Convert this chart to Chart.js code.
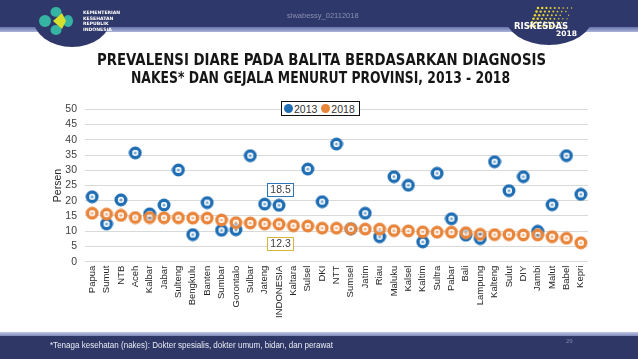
<!DOCTYPE html>
<html><head><meta charset="utf-8">
<script src="https://cdn.jsdelivr.net/npm/chart.js@4"></script>
<style>
html,body{margin:0;padding:0;background:#fff;}
#wrap{position:relative;width:638px;height:359px;overflow:hidden;}
#deco{position:absolute;left:0;top:0;}
#chartBox{position:absolute;left:0;top:95px;width:638px;height:240px;}
.t{position:absolute;white-space:nowrap;transform-origin:left top;line-height:1;}
.ttl{font-family:"DejaVu Sans Condensed","DejaVu Sans",sans-serif;font-weight:bold;font-size:16px;color:#161616;}
#legend{position:absolute;left:281px;top:101px;width:79px;height:15px;border:1px solid #111;background:#fff;box-sizing:border-box;font-family:"Liberation Sans",Arial,sans-serif;font-size:10.5px;color:#333;display:flex;align-items:center;padding-left:2px;}
#legend .dot{display:inline-block;width:9px;height:9px;border-radius:50%;margin-right:1px;}
#legend .lab{margin-right:4px;}
.logo{font-family:"DejaVu Sans","Liberation Sans",sans-serif;font-weight:bold;color:#fff;font-size:4.6px;}
</style></head>
<body>
<div id="wrap">
<canvas id="deco" width="638" height="359"></canvas>
<div class="t" id="wm" style="left:287px;top:12px;font-family:'Liberation Sans',Arial,sans-serif;font-size:7.5px;color:#8a90b2;">siwabessy_02112018</div>
<div class="t logo" style="left:83px;top:11px;">KEMENTERIAN</div>
<div class="t logo" style="left:83px;top:16.5px;">KESEHATAN</div>
<div class="t logo" style="left:83px;top:22px;">REPUBLIK</div>
<div class="t logo" style="left:83px;top:27.5px;">INDONESIA</div>
<div class="t" style="left:514px;top:22px;font-family:'DejaVu Sans',sans-serif;font-weight:bold;font-size:8.5px;color:#fff;">RISKESDAS</div>
<div class="t" style="left:556px;top:30px;font-family:'DejaVu Sans',sans-serif;font-weight:bold;font-size:7.5px;color:#fff;">2018</div>
<div class="t ttl" id="title1" style="left:97px;top:52px;">PREVALENSI DIARE PADA BALITA BERDASARKAN DIAGNOSIS</div>
<div class="t ttl" id="title2" style="left:131px;top:70px;">NAKES* DAN GEJALA MENURUT PROVINSI, 2013 - 2018</div>
<div id="chartBox"><canvas id="c" width="638" height="240"></canvas></div>
<div id="legend"><span class="dot" style="background:#1F6EB4"></span><span class="lab">2013</span><span class="dot" style="background:#E9853B"></span><span class="lab">2018</span></div>
<div class="t" id="foot" style="left:50px;top:341px;font-family:'Liberation Sans',Arial,sans-serif;font-size:8.5px;color:#e9ebf4;">*Tenaga kesehatan (nakes): Dokter spesialis, dokter umum, bidan, dan perawat</div>
<div class="t" style="left:566px;top:338px;font-family:'Liberation Sans',Arial,sans-serif;font-size:6px;color:#8088aa;">29</div>
</div>
<script>
const categories = ['Papua','Sumut','NTB','Aceh','Kalbar','Jabar','Sulteng','Bengkulu','Banten','Sumbar','Gorontalo','Sulbar','Jateng','INDONESIA','Kaltara','Sulsel','DKI','NTT','Sumsel','Jatim','Riau','Maluku','Kalsel','Kaltim','Sultra','Pabar','Bali','Lampung','Kalteng','Sulut','DIY','Jambi','Malut','Babel','Kepri'];
const prev2013 = [21.3,12.4,20.3,35.7,15.7,18.6,30.1,8.9,19.4,10.3,10.5,34.8,18.9,18.5,null,30.4,19.7,38.6,10.8,15.9,8.2,27.9,25.1,6.5,29.0,14.1,8.7,7.6,32.8,23.3,27.9,10.0,18.7,34.8,22.1];
const prev2018 = [15.9,15.6,15.2,14.5,14.5,14.4,14.4,14.3,14.3,13.7,12.8,12.7,12.4,12.3,11.8,11.7,11.0,11.0,10.8,10.7,10.7,10.2,10.1,9.8,9.7,9.7,9.5,9.0,8.9,8.9,8.8,8.8,8.2,7.7,6.2];
const yTicks = [0,5,10,15,20,25,30,35,40,45,50];
const seriesNames = ['2013','2018'];
const highlight = 'INDONESIA';

// fit title/footer widths
function fit(id, w){const el=document.getElementById(id);const r=el.getBoundingClientRect().width;el.style.transform='scaleX('+(w/r)+')';}
fit('title1',449);fit('title2',379);fit('foot',283);

// decorations
(function(){
  const d=document.getElementById('deco').getContext('2d');
  d.fillStyle='#fff';d.fillRect(0,0,638,359);
  const navy='#2f386a';
  d.fillStyle=navy;d.fillRect(0,0,638,28);
  let g=d.createLinearGradient(0,27,0,33);g.addColorStop(0,'#6673ad');g.addColorStop(1,'#b9c0df');
  d.fillStyle=g;d.fillRect(0,27,638,5);
  d.fillStyle=navy;
  d.beginPath();d.ellipse(72,18,39,29,0,0,Math.PI*2);d.fill();
  d.beginPath();d.ellipse(549,16,44,29,0,0,Math.PI*2);d.fill();
  // left logo
  d.fillStyle='#35b3a3';
  d.beginPath();d.ellipse(45,21,6,6,0,0,Math.PI*2);d.fill();
  d.beginPath();d.ellipse(56,12,5.5,5,0,0,Math.PI*2);d.fill();
  d.beginPath();d.ellipse(56,30,5.5,5,0,0,Math.PI*2);d.fill();
  d.beginPath();d.ellipse(68,21,5,6,0,0,Math.PI*2);d.fill();
  d.fillStyle='#d6df2b';
  d.beginPath();d.moveTo(53,21);d.lineTo(62,13);d.lineTo(66,21);d.lineTo(62,29);d.closePath();d.fill();
  // right logo dots
  d.fillStyle='#e8d430';
  for(let r=0;r<6;r++){for(let c=0;c<9;c++){const x=538+c*4.2-r*1.5,y=8+r*3.6;if((c+r)%3===0&&c>6)continue;const s=1.3-(c*0.08);if(s<0.4)continue;d.beginPath();d.arc(x,y,s,0,Math.PI*2);d.fill();}}
  // footer
  g=d.createLinearGradient(0,332,0,337);g.addColorStop(0,'#c0c6e2');g.addColorStop(1,'#6f7bb4');
  d.fillStyle=g;d.fillRect(0,332,638,5);
  d.fillStyle='#2e3766';d.fillRect(0,336,638,23);
})();

function marker(rgb){
  const c=document.createElement('canvas');c.width=14;c.height=14;
  const x=c.getContext('2d');
  x.fillStyle='rgb('+rgb+')';x.beginPath();x.arc(7,7,6.5,0,Math.PI*2);x.arc(7,7,3,0,Math.PI*2,true);x.fill();
  x.fillStyle='rgba(255,255,255,0.8)';x.beginPath();x.arc(7,7,3,0,Math.PI*2);x.arc(7,7,1.6,0,Math.PI*2,true);x.fill();
  x.fillStyle='rgba('+rgb+',0.6)';x.beginPath();x.arc(7,7,1.6,0,Math.PI*2);x.fill();
  return c;
}
const blueRGB='31,110,180', orangeRGB='233,133,59';

const boxLabels={
  id:'boxLabels',
  afterDatasetsDraw(chart){
    const ctx=chart.ctx;const i=categories.indexOf(highlight);
    const specs=[{ds:0,dy:-16,border:'#2E75B6'},{ds:1,dy:19,border:'#D8B53C'}];
    ctx.save();
    ctx.font='10.5px "Liberation Sans", Arial, sans-serif';
    specs.forEach(s=>{
      const el=chart.getDatasetMeta(s.ds).data[i];
      const v=chart.data.datasets[s.ds].data[i];
      const txt=v.toFixed(1);
      const w=ctx.measureText(txt).width+6,h=13;
      const cx=el.x+1.5,cy=el.y+s.dy;
      ctx.fillStyle='#fff';ctx.fillRect(Math.round(cx-w/2)+0.5,Math.round(cy-h/2)+0.5,Math.round(w),h);
      ctx.strokeStyle=s.border;ctx.lineWidth=1;ctx.strokeRect(Math.round(cx-w/2)+0.5,Math.round(cy-h/2)+0.5,Math.round(w),h);
      ctx.fillStyle='#404040';ctx.textAlign='center';ctx.textBaseline='middle';
      ctx.fillText(txt,cx,cy+1);
    });
    ctx.restore();
  }
};

new Chart(document.getElementById('c'),{
  type:'line',
  data:{labels:categories,datasets:[
    {label:seriesNames[0],data:prev2013,showLine:false,pointStyle:marker(blueRGB),pointRadius:6.5,borderColor:'rgb('+blueRGB+')',backgroundColor:'rgb('+blueRGB+')',order:2},
    {label:seriesNames[1],data:prev2018,showLine:false,pointStyle:marker(orangeRGB),pointRadius:6.5,borderColor:'rgb('+orangeRGB+')',backgroundColor:'rgb('+orangeRGB+')',order:1}
  ]},
  options:{
    responsive:false,animation:false,
    layout:{padding:{left:50,right:50,top:12.7,bottom:0}},
    plugins:{legend:{display:false},tooltip:{enabled:false}},
    scales:{
      x:{offset:true,grid:{display:false,drawTicks:false},border:{display:false},
        ticks:{autoSkip:false,minRotation:90,maxRotation:90,padding:4,color:'#262626',font:{family:'"Liberation Sans", Arial, sans-serif',size:9.5}},
        afterFit(s){s.height=73.3;}},
      y:{min:0,max:50,afterBuildTicks(s){s.ticks=yTicks.map(v=>({value:v}));},
        grid:{color:'#d9d9d9',drawTicks:false},border:{display:false},
        ticks:{autoSkip:false,stepSize:5,padding:8,color:'#404040',font:{family:'"Liberation Sans", Arial, sans-serif',size:10.5}},
        title:{display:true,text:'Persen',color:'#262626',padding:{top:2,bottom:0},font:{family:'"Liberation Sans", Arial, sans-serif',size:10.5}},
        afterFit(s){s.width=35;}}
    }
  },
  plugins:[boxLabels]
});
</script>
</body></html>
